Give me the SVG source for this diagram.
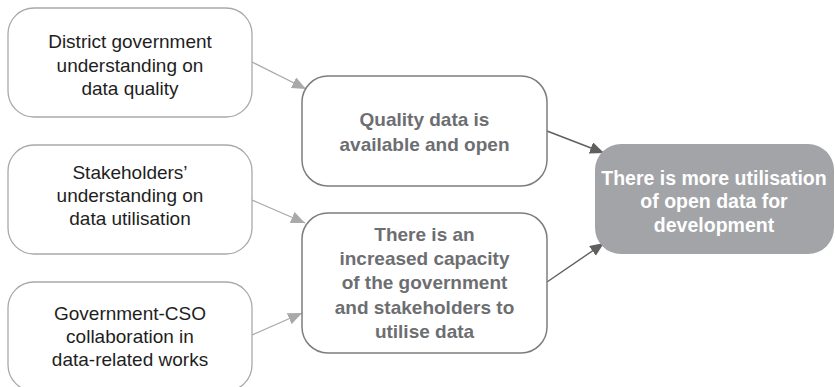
<svg xmlns="http://www.w3.org/2000/svg" width="835" height="387" viewBox="0 0 835 387">
<defs>
<style>
.src rect{fill:#fff;stroke:#a9a9a9;stroke-width:1.3}
.src text{font-family:"Liberation Sans",Arial,sans-serif;font-size:19px;fill:#1e1e1e;text-anchor:middle}
.mid rect{fill:#fff;stroke:#7d7d7d;stroke-width:1.5}
.mid text{font-family:"Liberation Sans",Arial,sans-serif;font-size:19px;font-weight:bold;fill:#6d6e71;text-anchor:middle}
.fin rect{fill:#a3a4a8;stroke:none}
.fin text{font-family:"Liberation Sans",Arial,sans-serif;font-size:19.5px;font-weight:bold;fill:#fff;text-anchor:middle}
.lt{stroke:#a9a9a9;stroke-width:1.3;fill:none;marker-end:url(#ah-l)}
.dk{stroke:#5f5f5f;stroke-width:1.4;fill:none;marker-end:url(#ah-d)}
</style>
<marker id="ah-l" markerUnits="userSpaceOnUse" markerWidth="16" markerHeight="14" refX="14" refY="6" orient="auto"><path d="M0,0 L14,6 L0,12 Z" fill="#a9a9a9"/></marker>
<marker id="ah-d" markerUnits="userSpaceOnUse" markerWidth="16" markerHeight="14" refX="14" refY="6" orient="auto"><path d="M0,0 L14,6 L0,12 Z" fill="#5f5f5f"/></marker>
</defs>
<rect width="835" height="387" fill="#fff"/>
<g id="connectors">
<line class="lt" x1="252" y1="62" x2="306" y2="89"/>
<line class="lt" x1="252" y1="200" x2="305" y2="223"/>
<line class="lt" x1="252" y1="335" x2="302" y2="313"/>
<line class="dk" x1="547" y1="131" x2="604" y2="153"/>
<line class="dk" x1="547" y1="282" x2="604" y2="243"/>
</g>
<g id="n1" class="src">
<rect x="8" y="8" width="244" height="109" rx="26"/>
<text x="130" y="48">District government</text>
<text x="130" y="72">understanding on</text>
<text x="130" y="95">data quality</text>
</g>
<g id="n2" class="src">
<rect x="8" y="145" width="244" height="109" rx="26"/>
<text x="130" y="179">Stakeholders’</text>
<text x="130" y="202">understanding on</text>
<text x="130" y="225">data utilisation</text>
</g>
<g id="n3" class="src">
<rect x="8" y="282" width="244" height="109" rx="26"/>
<text x="130" y="320">Government-CSO</text>
<text x="130" y="343">collaboration in</text>
<text x="130" y="366">data-related works</text>
</g>
<g id="n4" class="mid">
<rect x="302" y="76" width="245" height="110" rx="26"/>
<text x="424.5" y="126">Quality data is</text>
<text x="424.5" y="151">available and open</text>
</g>
<g id="n5" class="mid">
<rect x="302" y="213" width="245" height="140" rx="26"/>
<text x="424.5" y="241">There is an</text>
<text x="424.5" y="265">increased capacity</text>
<text x="424.5" y="289">of the government</text>
<text x="424.5" y="314">and stakeholders to</text>
<text x="424.5" y="338">utilise data</text>
</g>
<g id="n6" class="fin">
<rect x="595" y="144" width="239" height="110" rx="26"/>
<text x="714" y="185">There is more utilisation</text>
<text x="714" y="208">of open data for</text>
<text x="714" y="232">development</text>
</g>
</svg>
